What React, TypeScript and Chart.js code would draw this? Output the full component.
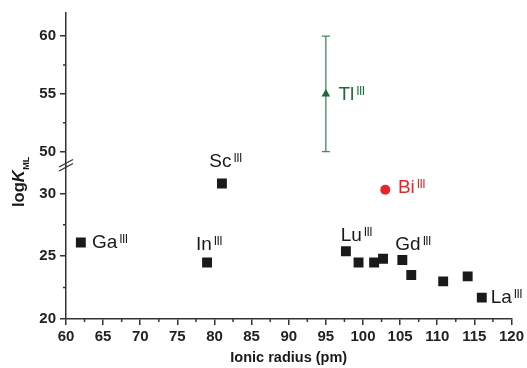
import React, { useEffect, useRef } from 'react';
import { Chart, registerables } from 'chart.js';

Chart.register(...registerables);

// ---- data ----
const ionRadius = [62, 79, 81, 97.7, 99.4, 101.5, 102.7, 105.3, 106.5, 110.8, 114.1, 116];
const logK = [26.1, 24.5, 30.8, 25.4, 24.5, 24.5, 24.8, 24.7, 23.5, 23.0, 23.4, 21.7];
const biRadius = [103];
const biLogK = [30.3];
const tlRadius = [95];
const tlLogK = [55];
const tlError = [5];

const xTickValues = [60, 65, 70, 75, 80, 85, 90, 95, 100, 105, 110, 115, 120];
const lowerYTickValues = [20, 25, 30];
const upperYTickValues = [50, 55, 60];

const labelNames = ['Ga', 'In', 'Sc', 'Lu', 'Gd', 'La', 'Bi', 'Tl'];
const labelSup = 'III';
const labelX = [63.5, 77.5, 79.3, 97.0, 104.35, 117.2, 104.7, 96.7];
const labelY = [25.63, 25.5, 32.1, 26.24, 25.5, 21.29, 30.05, 54.43];
const labelAxis = ['y', 'y', 'y', 'y', 'y', 'y', 'y', 'yTop'];

const BLACK = '#1a1a1a';
const RED = '#e8242a';
const GREEN = '#1d6b36';
const GREEN_BAR = '#3d8c5a';
const AXIS = '#333333';
const FONT = "'Liberation Sans', Arial, Helvetica, sans-serif";

const labelColor = [BLACK, BLACK, BLACK, BLACK, BLACK, BLACK, RED, GREEN];

const overlayPlugin = {
  id: 'overlay',
  beforeDatasetsDraw(chart: any) {
    const ctx = chart.ctx;
    const xs = chart.scales.x;
    const ys = chart.scales.yTop;
    ctx.save();
    ctx.strokeStyle = GREEN_BAR;
    ctx.lineWidth = 1.3;
    tlRadius.forEach((xv, i) => {
      const px = xs.getPixelForValue(xv);
      const pTop = ys.getPixelForValue(tlLogK[i] + tlError[i]);
      const pBot = ys.getPixelForValue(tlLogK[i] - tlError[i]);
      ctx.beginPath();
      ctx.moveTo(px, pTop);
      ctx.lineTo(px, pBot);
      ctx.moveTo(px - 4, pTop);
      ctx.lineTo(px + 4, pTop);
      ctx.moveTo(px - 4, pBot);
      ctx.lineTo(px + 4, pBot);
      ctx.stroke();
    });
    ctx.restore();
  },
  afterDraw(chart: any) {
    const ctx = chart.ctx;
    const xs = chart.scales.x;
    const yl = chart.scales.y;
    const yu = chart.scales.yTop;
    const area = chart.chartArea;
    ctx.save();
    // minor ticks
    ctx.strokeStyle = AXIS;
    ctx.lineWidth = 1.5;
    ctx.beginPath();
    for (let v = xs.min + 2.5; v < xs.max; v += 5) {
      const p = xs.getPixelForValue(v);
      ctx.moveTo(p, area.bottom);
      ctx.lineTo(p, area.bottom + 3);
    }
    [yl, yu].forEach((s: any) => {
      const start = Math.ceil((s.min - 2.5) / 5) * 5 + 2.5;
      for (let v = start; v < s.max; v += 5) {
        if (v <= s.min) continue;
        const p = s.getPixelForValue(v);
        ctx.moveTo(area.left, p);
        ctx.lineTo(area.left - 3, p);
      }
    });
    ctx.stroke();

    // axis break marks
    const by = yl.top;
    const bx = area.left;
    ctx.lineWidth = 1.3;
    ctx.beginPath();
    ctx.moveTo(bx - 7, by + 5);
    ctx.lineTo(bx + 7, by - 2.5);
    ctx.moveTo(bx - 7, by + 1);
    ctx.lineTo(bx + 7, by - 6.5);
    ctx.stroke();

    // point labels
    ctx.textBaseline = 'alphabetic';
    ctx.textAlign = 'left';
    labelNames.forEach((name, i) => {
      const sc = chart.scales[labelAxis[i]];
      const px = xs.getPixelForValue(labelX[i]);
      const py = sc.getPixelForValue(labelY[i]);
      ctx.fillStyle = labelColor[i];
      ctx.font = `19px ${FONT}`;
      (ctx as any).letterSpacing = '0px';
      ctx.fillText(name, px, py);
      const w = ctx.measureText(name).width;
      ctx.font = `12px ${FONT}`;
      (ctx as any).letterSpacing = '-0.6px';
      ctx.fillText(labelSup, px + w + 2, py - 5);
    });
    (ctx as any).letterSpacing = '0px';

    // x title
    ctx.fillStyle = BLACK;
    ctx.font = `bold 14.5px ${FONT}`;
    ctx.textAlign = 'center';
    ctx.fillText('Ionic radius (pm)', (area.left + area.right) / 2, 362);

    // y title (rotated)
    ctx.translate(24, 207);
    ctx.rotate(-Math.PI / 2);
    ctx.textAlign = 'left';
    ctx.font = `bold 16.5px ${FONT}`;
    ctx.fillText('log', 0, 0);
    let off = ctx.measureText('log').width;
    ctx.font = `italic bold 16.5px ${FONT}`;
    ctx.fillText('K', off, 0);
    off += ctx.measureText('K').width + 0.5;
    ctx.font = `bold 9px ${FONT}`;
    ctx.fillText('ML', off, 4.5);
    ctx.restore();
  },
};

function yScale(min: number, max: number, ticks: number[]) {
  return {
    type: 'linear',
    position: 'left',
    stack: 'ystack',
    stackWeight: 1,
    min,
    max,
    afterBuildTicks: (s: any) => {
      s.ticks = ticks.map((v) => ({ value: v }));
    },
    afterFit: (s: any) => {
      s.width = 66;
    },
    grid: { drawOnChartArea: false, tickLength: 6, color: AXIS, lineWidth: 1.5 },
    border: { color: AXIS, width: 1.5 },
    ticks: {
      font: { family: FONT, weight: 'bold', size: 15 },
      color: '#222222',
      padding: 4,
    },
  };
}

export default function App() {
  const ref = useRef<HTMLCanvasElement>(null);
  useEffect(() => {
    if (!ref.current) return;
    const chart = new Chart(ref.current, {
      type: 'scatter',
      data: {
        datasets: [
          {
            data: ionRadius.map((x, i) => ({ x, y: logK[i] })),
            yAxisID: 'y',
            pointStyle: 'rect',
            pointRadius: 7,
            borderWidth: 0,
            backgroundColor: BLACK,
          },
          {
            data: biRadius.map((x, i) => ({ x, y: biLogK[i] })),
            yAxisID: 'y',
            pointStyle: 'circle',
            pointRadius: 5,
            borderWidth: 0,
            backgroundColor: RED,
          },
          {
            data: tlRadius.map((x, i) => ({ x, y: tlLogK[i] })),
            yAxisID: 'yTop',
            pointStyle: 'triangle',
            pointRadius: 5,
            borderWidth: 0,
            backgroundColor: GREEN,
          },
        ],
      },
      options: {
        responsive: false,
        animation: false,
        events: [],
        layout: { padding: { top: 10, right: 11, left: 0, bottom: 0 } },
        plugins: { legend: { display: false }, tooltip: { enabled: false } },
        scales: {
          x: {
            type: 'linear',
            position: 'bottom',
            min: 60,
            max: 120,
            afterBuildTicks: (s: any) => {
              s.ticks = xTickValues.map((v) => ({ value: v }));
            },
            afterFit: (s: any) => {
              s.height = 49;
            },
            grid: { drawOnChartArea: false, tickLength: 6, color: AXIS, lineWidth: 1.5 },
            border: { color: AXIS, width: 1.5 },
            ticks: {
              font: { family: FONT, weight: 'bold', size: 15 },
              color: '#222222',
              padding: 3,
              maxRotation: 0,
            },
          },
          y: yScale(20, 32.19, lowerYTickValues),
          yTop: yScale(48.76, 62, upperYTickValues),
        } as any,
      },
      plugins: [overlayPlugin],
    } as any);
    return () => chart.destroy();
  }, []);
  return (
    <div style={{ position: 'fixed', left: 0, top: 0, width: 527, height: 368, background: '#fff' }}>
      <canvas ref={ref} width={527} height={368} />
    </div>
  );
}
